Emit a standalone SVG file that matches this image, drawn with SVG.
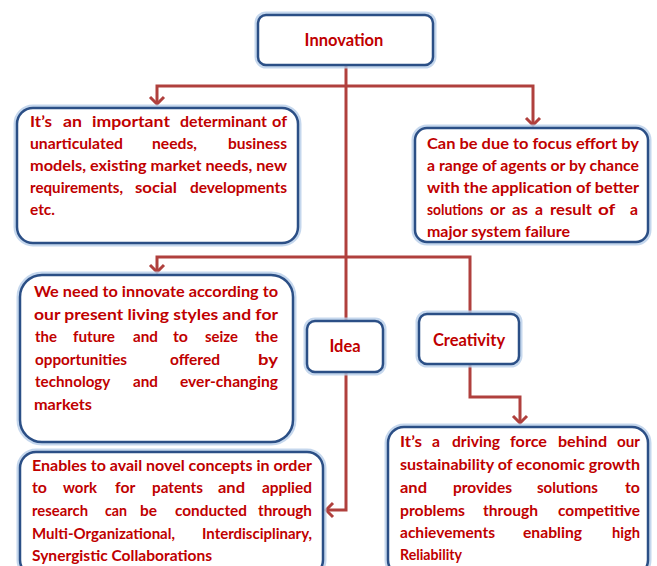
<svg xmlns="http://www.w3.org/2000/svg" width="657" height="566" viewBox="0 0 657 566">
<defs>
<style>
.glow{fill:none;stroke:#b7cde9;stroke-width:7;stroke-opacity:0.8}
.box{fill:#ffffff;stroke:#2b4f86;stroke-width:2.5}
.t{font-family:Lato,"Liberation Sans",sans-serif;font-weight:bold;font-size:16px;fill:#c00000}
.s{font-size:14.5px}
.lbl{font-family:Lato,"Liberation Sans",sans-serif;font-weight:bold;font-size:16.5px;fill:#c00000;text-anchor:middle}
.con{fill:none;stroke:#b0403d;stroke-width:3;stroke-linejoin:miter}
</style>
<marker id="arr" viewBox="-10 -9 12 18" refX="0" refY="0" markerWidth="12" markerHeight="18" markerUnits="userSpaceOnUse" orient="auto">
<path d="M-7,-7 L0,0 L-7,7" fill="none" stroke="#b0403d" stroke-width="3"/>
</marker>
</defs>
<rect width="657" height="566" fill="#ffffff"/>

<g id="connectors">
<path class="con" d="M346,65 V321"/>
<path class="con" d="M346,86 H157 V104" marker-end="url(#arr)"/>
<path class="con" d="M346,86 H533 V125" marker-end="url(#arr)"/>
<path class="con" d="M346,257 H157 V272" marker-end="url(#arr)"/>
<path class="con" d="M346,257 H470 V314"/>
<path class="con" d="M346,372 V510 H326" marker-end="url(#arr)"/>
<path class="con" d="M470,364 V397 H520 V423" marker-end="url(#arr)"/>
</g>

<g id="innovation">
<rect class="glow" x="258" y="15" width="175" height="50" rx="8"/>
<rect class="box" x="258" y="15" width="175" height="50" rx="8"/>
<text class="lbl" x="344" y="46">Innovation</text>
</g>

<g id="box-determinant">
<rect class="glow" x="17" y="108" width="281" height="135" rx="16"/>
<rect class="box" x="17" y="108" width="281" height="135" rx="16"/>
<text class="t" y="127"><tspan x="30" textLength="22" lengthAdjust="spacingAndGlyphs">It’s</tspan> <tspan x="63" textLength="19" lengthAdjust="spacingAndGlyphs">an</tspan> <tspan x="92" textLength="78" lengthAdjust="spacingAndGlyphs">important</tspan> <tspan x="180" textLength="87" lengthAdjust="spacingAndGlyphs">determinant</tspan> <tspan x="272" textLength="15" lengthAdjust="spacingAndGlyphs">of</tspan></text>
<text class="t" y="149"><tspan x="30" textLength="93" lengthAdjust="spacingAndGlyphs">unarticulated</tspan> <tspan x="152" textLength="45" lengthAdjust="spacingAndGlyphs">needs,</tspan> <tspan x="228" textLength="59" lengthAdjust="spacingAndGlyphs">business</tspan></text>
<text class="t" x="30" y="171" textLength="257" lengthAdjust="spacingAndGlyphs">models, existing market needs, new</text>
<text class="t" y="193"><tspan x="30" textLength="93" lengthAdjust="spacingAndGlyphs">requirements,</tspan> <tspan x="135" textLength="42" lengthAdjust="spacingAndGlyphs">social</tspan> <tspan x="190" textLength="97" lengthAdjust="spacingAndGlyphs">developments</tspan></text>
<text class="t" x="30" y="215" textLength="25" lengthAdjust="spacingAndGlyphs">etc.</text>
</g>

<g id="box-focus">
<rect class="glow" x="415" y="128" width="233" height="114" rx="12"/>
<rect class="box" x="415" y="128" width="233" height="114" rx="12"/>
<text class="t" x="427" y="149" textLength="212" lengthAdjust="spacingAndGlyphs">Can be due to focus effort by</text>
<text class="t" x="427" y="171" textLength="212" lengthAdjust="spacingAndGlyphs">a range of agents or by chance</text>
<text class="t" x="427" y="193" textLength="212" lengthAdjust="spacingAndGlyphs">with the application of better</text>
<text class="t s" y="215"><tspan x="427" textLength="56" lengthAdjust="spacingAndGlyphs">solutions</tspan> <tspan x="490" textLength="15" lengthAdjust="spacingAndGlyphs">or</tspan> <tspan x="512" textLength="16" lengthAdjust="spacingAndGlyphs">as</tspan> <tspan x="535" textLength="8" lengthAdjust="spacingAndGlyphs">a</tspan> <tspan x="550" textLength="42" lengthAdjust="spacingAndGlyphs">result</tspan> <tspan x="598" textLength="17" lengthAdjust="spacingAndGlyphs">of</tspan>  <tspan x="630" textLength="8" lengthAdjust="spacingAndGlyphs">a</tspan></text>
<text class="t" x="427" y="237" textLength="143" lengthAdjust="spacingAndGlyphs">major system failure</text>
</g>

<g id="box-need">
<rect class="glow" x="20" y="275" width="273" height="167" rx="22"/>
<rect class="box" x="20" y="275" width="273" height="167" rx="22"/>
<text class="t" x="34" y="297" textLength="244" lengthAdjust="spacingAndGlyphs">We need to innovate according to</text>
<text class="t" x="34" y="320" textLength="244" lengthAdjust="spacingAndGlyphs">our present living styles and for</text>
<text class="t" y="342"><tspan x="35" textLength="22" lengthAdjust="spacingAndGlyphs">the</tspan> <tspan x="73" textLength="42" lengthAdjust="spacingAndGlyphs">future</tspan> <tspan x="133" textLength="25" lengthAdjust="spacingAndGlyphs">and</tspan> <tspan x="173" textLength="15" lengthAdjust="spacingAndGlyphs">to</tspan> <tspan x="205" textLength="33" lengthAdjust="spacingAndGlyphs">seize</tspan> <tspan x="255" textLength="23" lengthAdjust="spacingAndGlyphs">the</tspan></text>
<text class="t" y="365"><tspan x="35" textLength="92" lengthAdjust="spacingAndGlyphs">opportunities</tspan> <tspan x="170" textLength="50" lengthAdjust="spacingAndGlyphs">offered</tspan> <tspan x="258" textLength="20" lengthAdjust="spacingAndGlyphs">by</tspan></text>
<text class="t" y="387"><tspan x="35" textLength="75" lengthAdjust="spacingAndGlyphs">technology</tspan> <tspan x="133" textLength="25" lengthAdjust="spacingAndGlyphs">and</tspan> <tspan x="180" textLength="98" lengthAdjust="spacingAndGlyphs">ever-changing</tspan></text>
<text class="t" x="34" y="410" textLength="58" lengthAdjust="spacingAndGlyphs">markets</text>
</g>

<g id="idea">
<rect class="glow" x="307" y="321" width="76" height="51" rx="8"/>
<rect class="box" x="307" y="321" width="76" height="51" rx="8"/>
<text class="lbl" x="345" y="352">Idea</text>
</g>

<g id="creativity">
<rect class="glow" x="419" y="314" width="100" height="50" rx="8"/>
<rect class="box" x="419" y="314" width="100" height="50" rx="8"/>
<text class="lbl" x="469" y="346">Creativity</text>
</g>

<g id="box-enables">
<rect class="glow" x="20" y="452" width="303" height="124" rx="16"/>
<rect class="box" x="20" y="452" width="303" height="124" rx="16"/>
<text class="t" x="32" y="471" textLength="280" lengthAdjust="spacingAndGlyphs">Enables to avail novel concepts in order</text>
<text class="t" y="493"><tspan x="32" textLength="15" lengthAdjust="spacingAndGlyphs">to</tspan> <tspan x="63" textLength="34" lengthAdjust="spacingAndGlyphs">work</tspan> <tspan x="115" textLength="20" lengthAdjust="spacingAndGlyphs">for</tspan> <tspan x="152" textLength="51" lengthAdjust="spacingAndGlyphs">patents</tspan> <tspan x="218" textLength="27" lengthAdjust="spacingAndGlyphs">and</tspan> <tspan x="262" textLength="50" lengthAdjust="spacingAndGlyphs">applied</tspan></text>
<text class="t" y="516"><tspan x="32" textLength="56" lengthAdjust="spacingAndGlyphs">research</tspan> <tspan x="105" textLength="22" lengthAdjust="spacingAndGlyphs">can</tspan> <tspan x="140" textLength="17" lengthAdjust="spacingAndGlyphs">be</tspan> <tspan x="175" textLength="72" lengthAdjust="spacingAndGlyphs">conducted</tspan> <tspan x="258" textLength="54" lengthAdjust="spacingAndGlyphs">through</tspan></text>
<text class="t" y="539"><tspan x="32" textLength="143" lengthAdjust="spacingAndGlyphs">Multi-Organizational,</tspan> <tspan x="202" textLength="110" lengthAdjust="spacingAndGlyphs">Interdisciplinary,</tspan></text>
<text class="t" x="32" y="561" textLength="180" lengthAdjust="spacingAndGlyphs">Synergistic Collaborations</text>
</g>

<g id="box-driving">
<rect class="glow" x="388" y="427" width="260" height="149" rx="16"/>
<rect class="box" x="388" y="427" width="260" height="149" rx="16"/>
<text class="t" y="447"><tspan x="400" textLength="22" lengthAdjust="spacingAndGlyphs">It’s</tspan> <tspan x="432" textLength="8" lengthAdjust="spacingAndGlyphs">a</tspan> <tspan x="452" textLength="48" lengthAdjust="spacingAndGlyphs">driving</tspan> <tspan x="510" textLength="37" lengthAdjust="spacingAndGlyphs">force</tspan> <tspan x="558" textLength="49" lengthAdjust="spacingAndGlyphs">behind</tspan> <tspan x="617" textLength="23" lengthAdjust="spacingAndGlyphs">our</tspan></text>
<text class="t" x="400" y="470" textLength="240" lengthAdjust="spacingAndGlyphs">sustainability of economic growth</text>
<text class="t" y="493"><tspan x="400" textLength="27" lengthAdjust="spacingAndGlyphs">and</tspan> <tspan x="453" textLength="59" lengthAdjust="spacingAndGlyphs">provides</tspan> <tspan x="537" textLength="61" lengthAdjust="spacingAndGlyphs">solutions</tspan> <tspan x="625" textLength="15" lengthAdjust="spacingAndGlyphs">to</tspan></text>
<text class="t" y="516"><tspan x="400" textLength="65" lengthAdjust="spacingAndGlyphs">problems</tspan> <tspan x="483" textLength="55" lengthAdjust="spacingAndGlyphs">through</tspan> <tspan x="558" textLength="82" lengthAdjust="spacingAndGlyphs">competitive</tspan></text>
<text class="t" y="538"><tspan x="400" textLength="95" lengthAdjust="spacingAndGlyphs">achievements</tspan> <tspan x="523" textLength="59" lengthAdjust="spacingAndGlyphs">enabling</tspan> <tspan x="612" textLength="28" lengthAdjust="spacingAndGlyphs">high</tspan></text>
<text class="t" x="400" y="560" textLength="62" lengthAdjust="spacingAndGlyphs">Reliability</text>
</g>
</svg>
